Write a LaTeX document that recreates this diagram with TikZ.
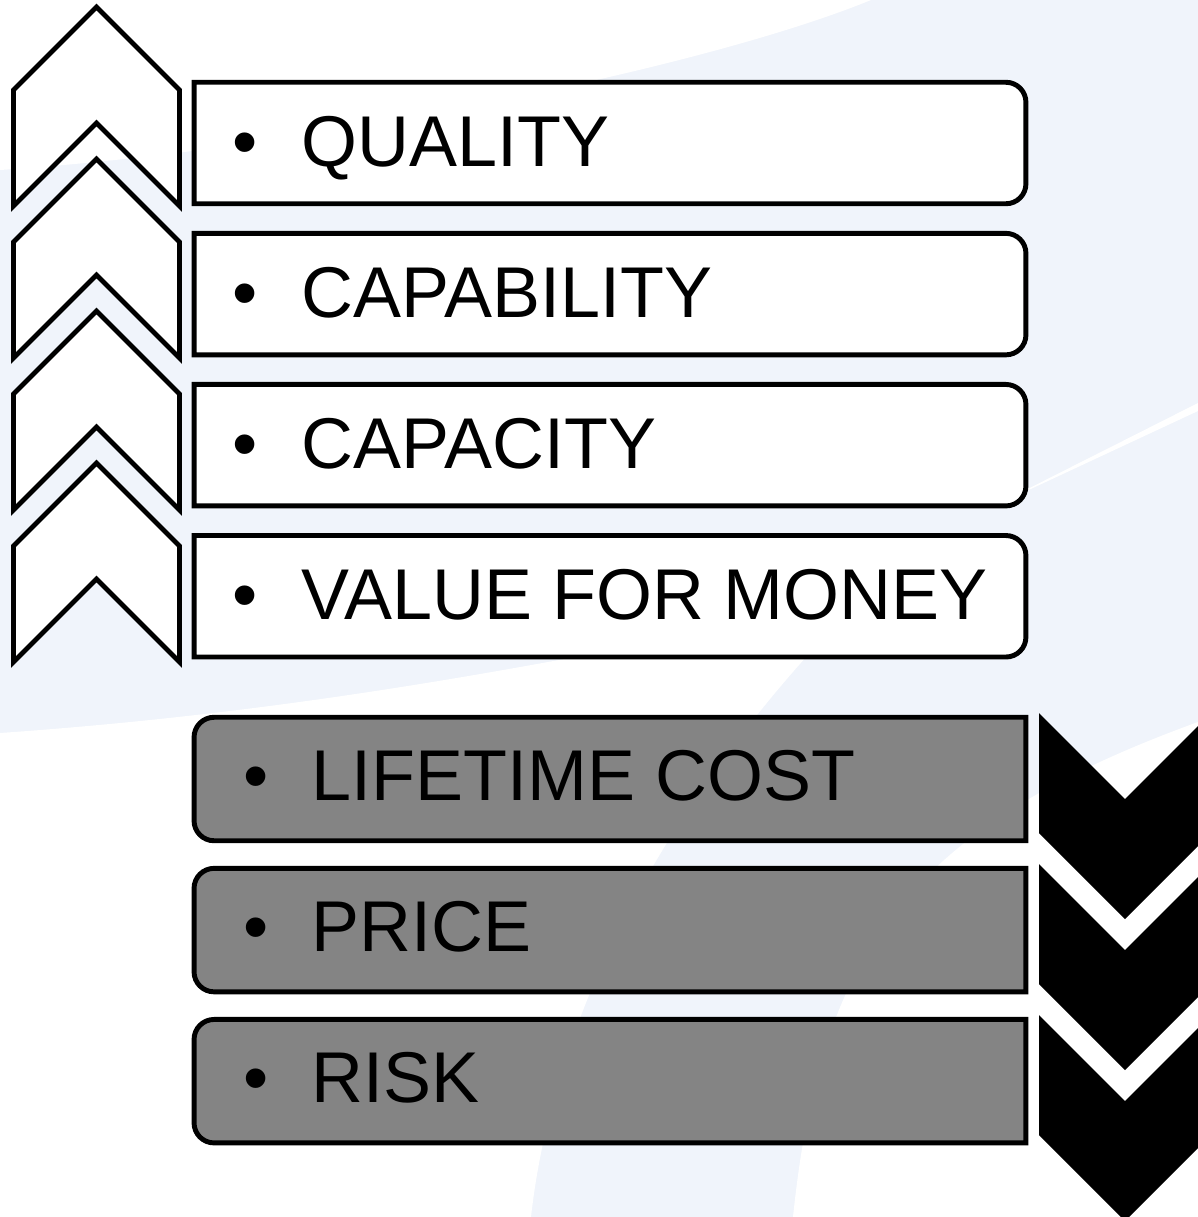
\documentclass[tikz,border=0pt]{standalone}
\usepackage{fontspec}
\setmainfont{Liberation Sans}
\usetikzlibrary{positioning}
\definecolor{swoosh}{RGB}{240,244,251}
\definecolor{boxgray}{RGB}{132,132,132}

\begin{document}
\begin{tikzpicture}[x=0.01cm, y=0.01cm,
        wbox/.style = {minimum width=8.3cm, minimum height=1.2cm, inner sep=0},
        gbox/.style = {minimum width=8.3cm, minimum height=1.22cm, inner sep=0},
        item/.style = {anchor=base west, inner sep=0, font=\fontsize{20.45pt}{24pt}\selectfont},
        edge/.style = {draw=black, line width=1.4pt},
        node distance=1.51cm]
    \useasboundingbox (0,0) rectangle (1198,-1217);
    \clip (0,0) rectangle (1198,-1217);

    % background swoosh
    \fill[swoosh] (0,0) rectangle (1198,-1217);
    \fill[white] (0,0) -- (871,0) .. controls (700,-70) and (300,-150) .. (0,-170) -- cycle;
    \fill[white] (0,-733) .. controls (300,-712) and (550,-665) .. (860,-600)
        .. controls (720,-740) and (560,-960) .. (531,-1217) -- (0,-1217) -- cycle;
    \fill[white] (793,-1217) .. controls (820,-960) and (900,-830) .. (1198,-722) -- (1198,-1217) -- cycle;
    \fill[white] (990,-508) -- (1198,-403) -- (1198,-411) -- cycle;

    % up and down chevrons
    \foreach \k in {0,...,3}
        \draw[edge, fill=white] (13.5,{-90-152*\k}) -- (96.5,{-7-152*\k}) -- (179.5,{-90-152*\k})
            -- (179.5,{-206-152*\k}) -- (96.5,{-123-152*\k}) -- (13.5,{-206-152*\k}) -- cycle;
    \foreach \k in {0,1,2}
        \fill (1039,{-713-151*\k}) -- (1125,{-799-151*\k}) -- (1211,{-713-151*\k})
            -- (1211,{-833-151*\k}) -- (1125,{-919-151*\k}) -- (1039,{-833-151*\k}) -- cycle;

    \node[wbox] (q1) at (610,-143) {};
    \node[wbox] (q2) [below of=q1] {};
    \node[wbox] (q3) [below of=q2] {};
    \node[wbox] (q4) [below of=q3] {};
    \node[gbox] (g1) at (610,-779) {};
    \node[gbox] (g2) [below of=g1] {};
    \node[gbox] (g3) [below of=g2] {};

    \foreach \n in {q1,q2,q3,q4}
        \draw[edge, fill=white] (\n.south west) -- (\n.north west) -- ([xshift=-0.2cm]\n.north east)
            arc[start angle=90, end angle=0, radius=0.2cm] -- ([yshift=0.2cm]\n.south east)
            arc[start angle=0, end angle=-90, radius=0.2cm] -- cycle;
    \foreach \n in {g1,g2,g3}
        \draw[edge, fill=boxgray] (\n.north east) -- (\n.south east) -- ([xshift=0.2cm]\n.south west)
            arc[start angle=270, end angle=180, radius=0.2cm] -- ([yshift=-0.2cm]\n.north west)
            arc[start angle=180, end angle=90, radius=0.2cm] -- cycle;

    \foreach \n/\t in {q1/QUALITY, q2/CAPABILITY, q3/CAPACITY, q4/VALUE FOR MONEY}
        \node[item] (l-\n) at ([shift={(50,-23)}]\n.west) {\makebox[0pt]{•}\hspace{0.57cm}\t};
    \foreach \n/\t in {g1/LIFETIME COST, g2/PRICE, g3/RISK}
        \node[item] (l-\n) at ([shift={(61,-21)}]\n.west) {\makebox[0pt]{•}\hspace{0.56cm}\t};
\end{tikzpicture}
\end{document}
